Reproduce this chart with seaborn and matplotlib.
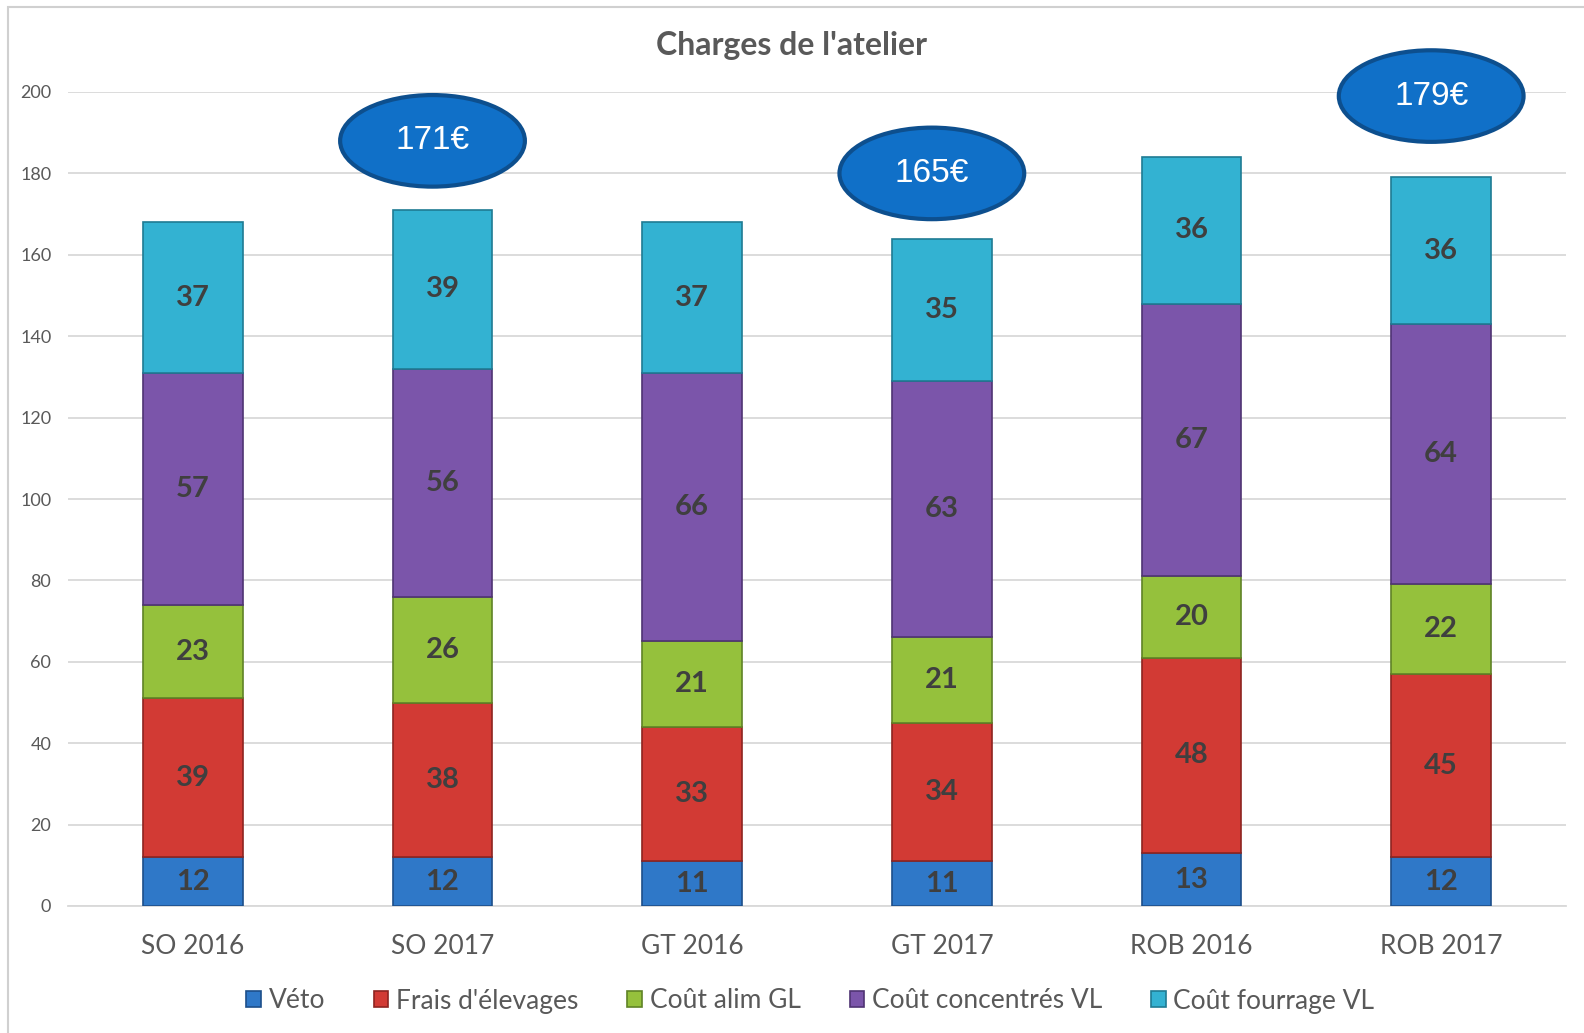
import numpy as np
import pandas as pd
import matplotlib.pyplot as plt
import seaborn as sns
from matplotlib.patches import Ellipse, Rectangle

# data
categories = ['SO 2016', 'SO 2017', 'GT 2016', 'GT 2017', 'ROB 2016', 'ROB 2017']
veto = [12, 12, 11, 11, 13, 12]
frais = [39, 38, 33, 34, 48, 45]
alim_gl = [23, 26, 21, 21, 20, 22]
concentres = [57, 56, 66, 63, 67, 64]
fourrage = [37, 39, 37, 35, 36, 36]

series_names = ['Véto', "Frais d'élevages", 'Coût alim GL', 'Coût concentrés VL', 'Coût fourrage VL']
series_colors = ['#2f78c8', '#d23a34', '#95c13c', '#7b55aa', '#33b2d2']
edge_colors = ['#1d4f8a', '#8e2420', '#5f8326', '#4f3473', '#1f7b93']

# callouts (label, category, y centre)
callout_labels = ['171€', '165€', '179€']
callout_cats = ['SO 2017', 'GT 2017', 'ROB 2017']
callout_y = [188, 180, 199]

df = pd.DataFrame({'cat': categories, series_names[0]: veto, series_names[1]: frais,
                   series_names[2]: alim_gl, series_names[3]: concentres,
                   series_names[4]: fourrage})

sns.set_style('white')
plt.rcParams['font.family'] = ['Lato', 'DejaVu Sans']

fig = plt.figure(figsize=(15.84, 10.33), dpi=100)
ax = fig.add_axes([68 / 1584, 1 - 906 / 1033, (1566 - 68) / 1584, (906 - 92) / 1033])

bottom = np.zeros(len(categories))
for name, col, ec in zip(series_names, series_colors, edge_colors):
    vals = df[name].to_numpy()
    sns.barplot(data=df, x='cat', y=name, bottom=bottom, color=col, width=0.4,
                edgecolor=ec, linewidth=1.2, label=name, ax=ax, zorder=3,
                saturation=1)
    for i, v in enumerate(vals):
        ax.text(i, bottom[i] + v / 2, str(v), ha='center', va='center',
                fontsize=21, fontweight='bold', color='#3f3f3f', zorder=5)
    bottom = bottom + vals

ax.set_ylim(0, 200)
ax.set_xlim(-0.5, 5.5)
ax.set_yticks(range(0, 201, 20))
ax.yaxis.grid(True, color='#d9d9d9', linewidth=1.3, zorder=0)
ax.set_axisbelow(True)
for s in ['top', 'right', 'left']:
    ax.spines[s].set_visible(False)
ax.spines['bottom'].set_color('#d9d9d9')
ax.spines['bottom'].set_linewidth(1.3)
ax.tick_params(axis='y', length=0, pad=12, labelsize=13, labelcolor='#595959')
ax.tick_params(axis='x', length=0, pad=20, labelsize=19, labelcolor='#595959')
ax.set_xlabel('')
ax.set_ylabel('')

for lab, cat, yc in zip(callout_labels, callout_cats, callout_y):
    xi = categories.index(cat) - 0.04
    ax.add_patch(Ellipse((xi, yc), width=0.74, height=22.5, facecolor='#1070c8',
                         edgecolor='#0d4f8e', linewidth=3, zorder=6, clip_on=False))
    ax.text(xi, yc, lab, ha='center', va='center', fontsize=24, color='white',
            family=['Liberation Sans', 'DejaVu Sans'], zorder=7)

fig.text(0.5, 1 - 46 / 1033, "Charges de l'atelier", ha='center', va='center',
         fontsize=23, fontweight='bold', color='#595959')

handles, labels = ax.get_legend_handles_labels()
ax.legend(handles, labels, loc='center', bbox_to_anchor=(0.4955, (906 - 1001) / 814),
          ncol=5, frameon=False, fontsize=19, labelcolor='#595959',
          handlelength=0.55, handleheight=0.55, handletextpad=0.3, columnspacing=1.85)

# chart frame
fig.add_artist(Rectangle((8 / 1584, -0.01), 1.2, 1 - 7 / 1033 + 0.01,
                         transform=fig.transFigure, fill=False,
                         edgecolor='#d0d0d0', linewidth=1.5))

fig.savefig('out.png', dpi=100)
